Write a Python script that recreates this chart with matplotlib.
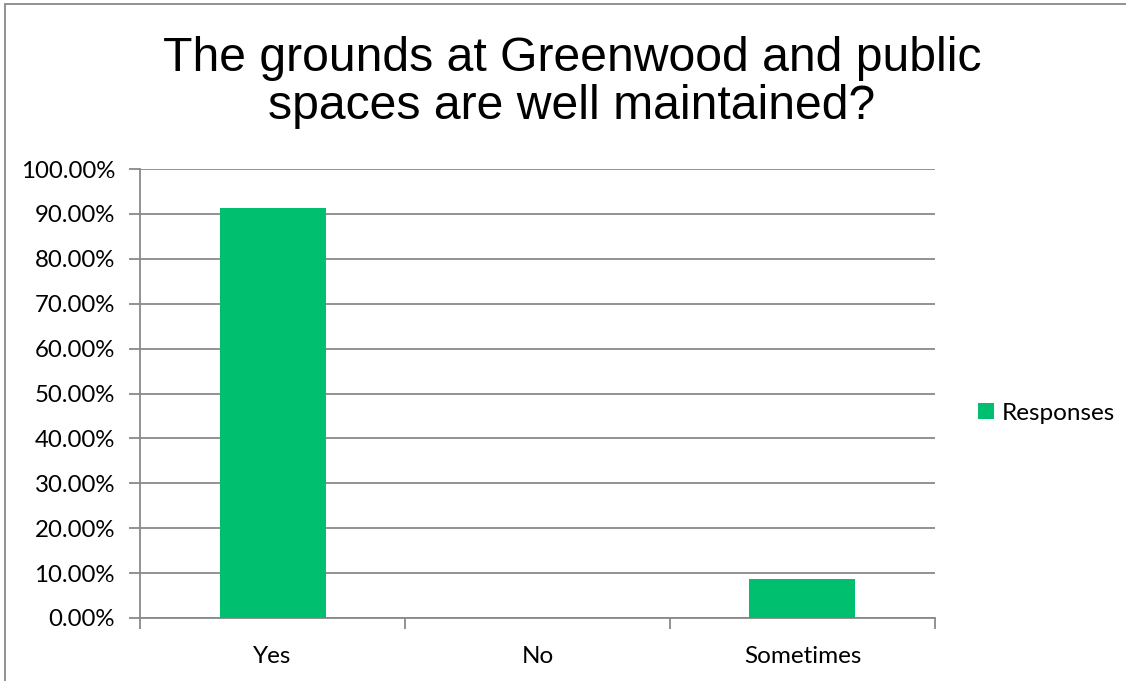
import matplotlib.pyplot as plt
from matplotlib.patches import Rectangle
from matplotlib.ticker import FuncFormatter, MultipleLocator

categories = ['Yes', 'No', 'Sometimes']
responses = [91.30, 0.0, 8.70]

bar_color = '#00BF6F'
line_color = '#898989'

plt.rcParams['font.family'] = ['Lato', 'DejaVu Sans']

fig = plt.figure(figsize=(11.26, 6.81), dpi=100)
ax = fig.add_axes([140/1126, 1 - 618/681, 795/1126, 449/681])

x = list(range(len(categories)))
ax.bar(x, responses, width=0.4, color=bar_color, label='Responses', zorder=3)

ax.set_xlim(-0.5, len(categories) - 0.5)
ax.set_ylim(0, 100)
ax.yaxis.set_major_locator(MultipleLocator(10))
ax.yaxis.set_major_formatter(FuncFormatter(lambda v, p: f'{v:.2f}%'))
ax.grid(axis='y', color=line_color, linewidth=1.3, zorder=0)

# category ticks sit between the categories
ax.set_xticks([i - 0.5 for i in range(len(categories) + 1)])
ax.set_xticklabels([])
ax.set_xticks(x, minor=True)
ax.set_xticklabels(categories, minor=True, fontsize=17.5)
ax.tick_params(axis='x', which='minor', length=0, pad=20)
ax.tick_params(axis='x', which='major', length=8, width=1.3, color=line_color)
ax.tick_params(axis='y', length=8, width=1.3, color=line_color, labelsize=17.3, pad=10)

for s in ['top', 'right']:
    ax.spines[s].set_visible(False)
for s in ['left', 'bottom']:
    ax.spines[s].set_color(line_color)
    ax.spines[s].set_linewidth(1.3)

title_lines = ['The grounds at Greenwood and public', 'spaces are well maintained?']
for line, ypix in zip(title_lines, [71, 119]):
    fig.text(572/1126, 1 - ypix/681, line, ha='center', va='baseline',
             fontsize=34.7, family='Liberation Sans')

fig.legend(loc='center left', bbox_to_anchor=(956/1126, 1 - 413/681), frameon=False,
           fontsize=17.5, handlelength=0.65, handleheight=0.65, handletextpad=0.35)

# outer chart border
fig.patches.append(Rectangle((5/1126, -0.05), 1.2, 1 - 4/681 + 0.05, transform=fig.transFigure,
                             fill=False, edgecolor=line_color, linewidth=1.3))

fig.savefig('out.png', dpi=100)
